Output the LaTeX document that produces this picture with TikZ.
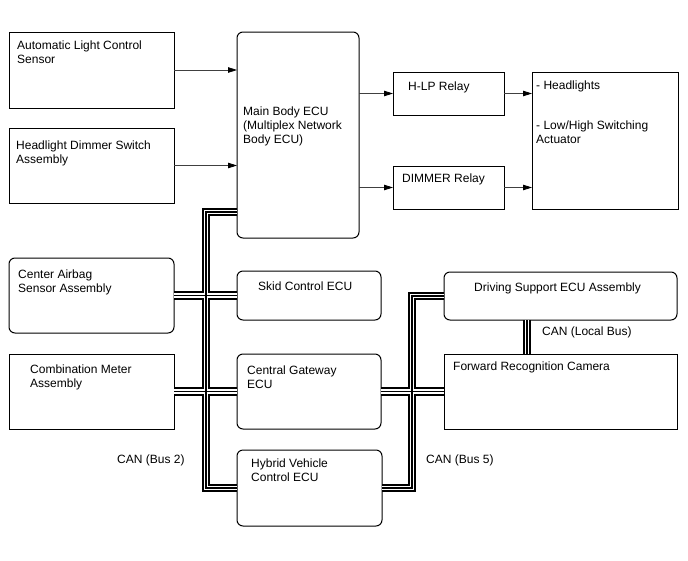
\documentclass[tikz,border=0pt]{standalone}
\usepackage{fontspec}
\setmainfont{Liberation Sans}
\usetikzlibrary{arrows.meta,calc}
\newcommand{\mlines}[1]{\begin{tabular}[t]{@{}l@{}}#1\end{tabular}}
\newcommand{\drawbus}[1]{%
  \draw[#1] (mb.west |- 0,212) -| (hv.west -| 206,0) -- (hv.west);
  \draw[#1] (cas.east) -- (skid.west);
  \draw[#1] (cm.east) -- (cg.west);
  \draw[#1] (ds.west) -| (hv.east -| 412,0) -- (hv.east);
  \draw[#1] (cg.east) -- (frc.west);
  \draw[#1] (ds.south -| 527,0) -- (frc.north -| 527,0);
}
\tikzset{
  box/.style={draw, line width=1pt, inner sep=0pt, outer sep=0pt, anchor=north west},
  rbox/.style={box, rounded corners=6pt},
  txt/.style={inner sep=0pt, anchor=base west, font=\fontsize{12}{14}\selectfont},
  arr/.style={draw=black!75, line width=0.8pt, -{Triangle[length=9pt,width=5.5pt,color=black]}},
  busA/.style={line width=8.5pt, draw=black},
  busB/.style={line width=4.6pt, draw=white},
  busC/.style={line width=1.1pt, draw=black},
}
\begin{document}
\begin{tikzpicture}[x=1pt,y=-1pt]
\useasboundingbox[fill=white] (0,0) rectangle (688,560);
% boxes
\node[box, minimum width=165pt, minimum height=76pt] (alcs) at (9,32) {};
\node[box, minimum width=165pt, minimum height=75pt] (hdsa) at (9,128) {};
\node[rbox, minimum width=122pt, minimum height=206pt] (mb) at (237,32) {};
\node[box, minimum width=111pt, minimum height=43pt] (hlp) at (393,72) {};
\node[box, minimum width=111pt, minimum height=43pt] (dim) at (393,166) {};
\node[box, minimum width=146pt, minimum height=137pt] (hl) at (532,72) {};
\node[rbox, minimum width=165pt, minimum height=75pt] (cas) at (9,258) {};
\node[box, minimum width=165pt, minimum height=75pt] (cm) at (9,354) {};
\node[rbox, minimum width=144pt, minimum height=49pt] (skid) at (237,271) {};
\node[rbox, minimum width=144pt, minimum height=75pt] (cg) at (237,354) {};
\node[rbox, minimum width=145pt, minimum height=76pt] (hv) at (237,450) {};
\node[rbox, minimum width=233pt, minimum height=48pt] (ds) at (444,272) {};
\node[box, minimum width=233pt, minimum height=75pt] (frc) at (444,354) {};
% texts
\node[txt] (talcs) at (17,49) {\mlines{Automatic Light Control\\Sensor}};
\node[txt] (thdsa) at (16,149) {\mlines{Headlight Dimmer Switch\\Assembly}};
\node[txt] (tmb) at (243,115) {\mlines{Main Body ECU\\(Multiplex Network\\Body ECU)}};
\node[txt] (thlp) at (408,90) {H-LP Relay};
\node[txt] (tdim) at (402,182) {DIMMER Relay};
\node[txt] (thl1) at (536,89) {- Headlights};
\node[txt] (thl2) at (536,129) {\mlines{- Low/High Switching\\Actuator}};
\node[txt] (tcas) at (18,278) {\mlines{Center Airbag\\Sensor Assembly}};
\node[txt] (tcm) at (30,373) {\mlines{Combination Meter\\Assembly}};
\node[txt] (tskid) at (258,290) {Skid Control ECU};
\node[txt] (tcg) at (247,374) {\mlines{Central Gateway\\ECU}};
\node[txt] (thv) at (251,467) {\mlines{Hybrid Vehicle\\Control ECU}};
\node[txt] (tds) at (474,291) {Driving Support ECU Assembly};
\node[txt] (tfrc) at (453,370) {Forward Recognition Camera};
\node[txt] (tcan2) at (117,463) {CAN (Bus 2)};
\node[txt] (tcan5) at (426,463) {CAN (Bus 5)};
\node[txt] (tcanl) at (542,335) {CAN (Local Bus)};
% arrows
\draw[arr] (alcs.east) -- (alcs.east -| mb.west);
\draw[arr] (hdsa.east) -- (hdsa.east -| mb.west);
\draw[arr] (mb.east |- hlp.west) -- (hlp.west);
\draw[arr] (mb.east |- dim.west) -- (dim.west);
\draw[arr] (hlp.east) -- (hlp.east -| hl.west);
\draw[arr] (dim.east) -- (dim.east -| hl.west);
% CAN buses
\drawbus{busA}
\drawbus{busB}
\drawbus{busC}
\end{tikzpicture}
\end{document}
